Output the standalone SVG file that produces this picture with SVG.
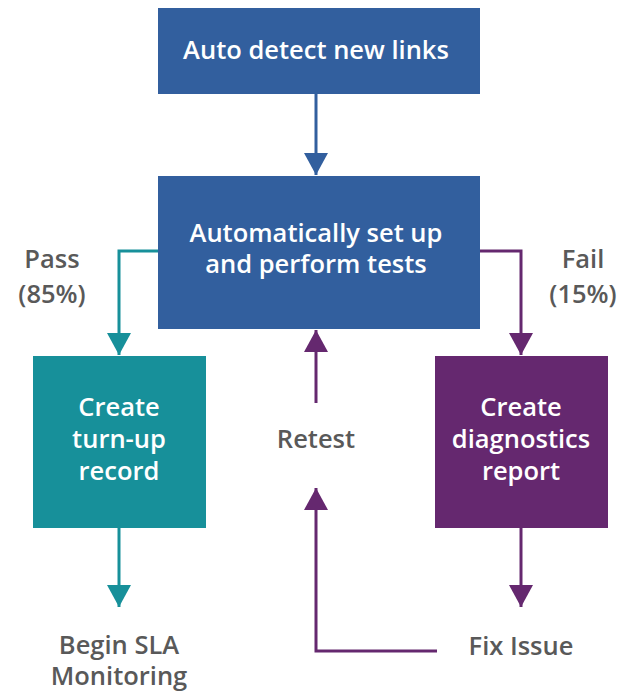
<svg xmlns="http://www.w3.org/2000/svg" width="634" height="691" viewBox="0 0 634 691">
<style>
.t{font-family:"Open Sans","Liberation Sans",sans-serif;font-weight:600;font-size:25.5px;text-anchor:middle}
.w{fill:#ffffff}
.g{fill:#595959}
.ln{fill:none;stroke-width:3}
</style>
<defs>
<marker id="ab" markerUnits="userSpaceOnUse" markerWidth="26" markerHeight="24" refX="22" refY="12" orient="auto" viewBox="0 0 26 24"><path d="M0,0 L22,12 L0,24 Z" fill="#325f9e"/></marker>
<marker id="at" markerUnits="userSpaceOnUse" markerWidth="26" markerHeight="24" refX="22" refY="12" orient="auto" viewBox="0 0 26 24"><path d="M0,0 L22,12 L0,24 Z" fill="#17909a"/></marker>
<marker id="ap" markerUnits="userSpaceOnUse" markerWidth="26" markerHeight="24" refX="22" refY="12" orient="auto" viewBox="0 0 26 24"><path d="M0,0 L22,12 L0,24 Z" fill="#65286f"/></marker>
</defs>
<g id="connectors">
<path class="ln" stroke="#325f9e" d="M316,94 V175" marker-end="url(#ab)"/>
<path class="ln" stroke="#17909a" d="M158,251 H119 V355" marker-end="url(#at)"/>
<path class="ln" stroke="#65286f" d="M480,251 H521 V355" marker-end="url(#ap)"/>
<path class="ln" stroke="#17909a" d="M119,528 V607" marker-end="url(#at)"/>
<path class="ln" stroke="#65286f" d="M521,528 V607" marker-end="url(#ap)"/>
<path class="ln" stroke="#65286f" d="M316,403 V330" marker-end="url(#ap)"/>
<path class="ln" stroke="#65286f" d="M437,651 H316 V488" marker-end="url(#ap)"/>
</g>
<g id="auto-detect">
<rect x="158" y="8" width="322" height="86" fill="#325f9e"/>
<text class="t w" x="316" y="59">Auto detect new links</text>
</g>
<g id="setup-tests">
<rect x="158" y="176" width="322" height="153" fill="#325f9e"/>
<text class="t w" x="316" y="242">Automatically set up<tspan x="316" dy="31">and perform tests</tspan></text>
</g>
<g id="turn-up">
<rect x="33" y="356" width="173" height="172" fill="#17909a"/>
<text class="t w" x="119" y="416">Create<tspan x="119" dy="32">turn-up</tspan><tspan x="119" dy="32">record</tspan></text>
</g>
<g id="diagnostics">
<rect x="435" y="356" width="173" height="172" fill="#65286f"/>
<text class="t w" x="521" y="416">Create<tspan x="521" dy="32">diagnostics</tspan><tspan x="521" dy="32">report</tspan></text>
</g>
<g id="labels">
<text class="t g" x="52" y="268">Pass<tspan x="52" dy="35">(85%)</tspan></text>
<text class="t g" x="583" y="268">Fail<tspan x="583" dy="35">(15%)</tspan></text>
<text class="t g" x="316" y="448">Retest</text>
</g>
<g id="sla">
<text class="t g" x="119" y="654">Begin SLA<tspan x="119" dy="31">Monitoring</tspan></text>
</g>
<g id="fix">
<text class="t g" x="521" y="655">Fix Issue</text>
</g>
</svg>
